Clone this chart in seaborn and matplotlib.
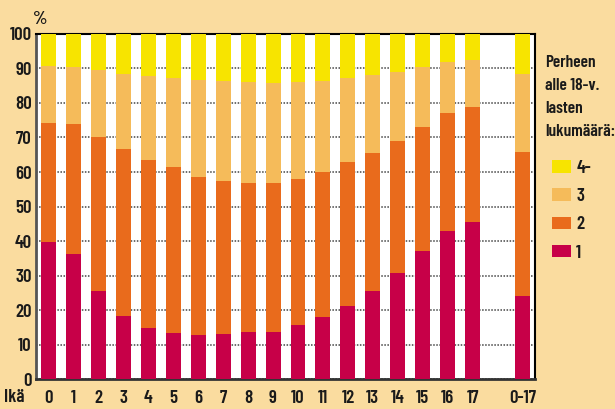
import pandas as pd
import numpy as np
import seaborn as sns
import matplotlib.pyplot as plt

# ages, with an empty slot before the total bar
ages = ['0', '1', '2', '3', '4', '5', '6', '7', '8', '9', '10', '11', '12',
        '13', '14', '15', '16', '17', '0-17']
order = ages[:-1] + [''] + ['0-17']

# share of children (%) by number of under-18 children in family
one = [39.7, 36.2, 25.5, 18.3, 14.8, 13.3, 12.7, 13.0, 13.6, 13.6, 15.6,
       18.0, 21.2, 25.5, 30.7, 37.1, 42.9, 45.5, 24.1]
two = [34.5, 37.7, 44.6, 48.4, 48.7, 48.1, 45.9, 44.4, 43.2, 43.2, 42.4,
       42.0, 41.7, 40.0, 38.3, 35.9, 34.2, 33.3, 41.7]
three = [16.5, 16.5, 19.5, 21.7, 24.3, 25.8, 28.1, 29.0, 29.3, 29.0, 28.1,
         26.4, 24.3, 22.6, 20.0, 17.4, 14.8, 13.7, 22.6]
four = [100 - a - b - c for a, b, c in zip(one, two, three)]

groups = ['4-', '3', '2', '1']
colors = {'4-': '#F7E400', '3': '#F5BB5A', '2': '#E96B1C', '1': '#C70048'}
bg = '#FADC9F'

df = pd.DataFrame({'ika': ages, '1': one, '2': two, '3': three, '4-': four})
df['c1'] = df['1']
df['c2'] = df['c1'] + df['2']
df['c3'] = df['c2'] + df['3']
df['c4'] = df['c3'] + df['4-']

fig = plt.figure(figsize=(6.15, 4.09), dpi=100, facecolor=bg)
ax = fig.add_axes([0.0585, 0.0733, 0.8115, 0.8436])
ax.set_facecolor('white')

# overlapping cumulative bars, tallest first
for col, g in zip(['c4', 'c3', 'c2', 'c1'], groups):
    sns.barplot(data=df, x='ika', y=col, order=order, color=colors[g],
                width=0.6, saturation=1, ax=ax, label=g, zorder=3)
handles, labels = ax.get_legend_handles_labels()
ax.get_legend().remove()

ax.set_ylim(0, 100)
ax.set_xlim(-0.5, 19.5)
ax.set_yticks(range(0, 101, 10))
ax.yaxis.grid(True, linestyle=(0, (1, 1)), color='#444444', linewidth=1.1, zorder=0)
ax.set_axisbelow(True)
ax.tick_params(length=0, pad=3)
ax.tick_params(axis='x', pad=8)
ax.set_xlabel('')
ax.set_ylabel('')

fnt = ['Barlow Condensed', 'DejaVu Sans']
fs = 13.5
tk = dict(fontfamily=fnt, fontweight=600, fontsize=fs, color='#1a1a1a')
for lab in ax.get_xticklabels() + ax.get_yticklabels():
    lab.set(**tk)

ax.spines['left'].set_color('#555555')
ax.spines['left'].set_linewidth(2)
ax.spines['bottom'].set_color('#333333')
ax.spines['bottom'].set_linewidth(2)
ax.spines['top'].set_linewidth(1.5)
ax.spines['right'].set_linewidth(1.5)

fig.text(14 / 615, 1 - 398 / 409, 'Ikä', ha='center', va='center', **tk)
fig.text(40 / 615, 1 - 19 / 409, '%', ha='center', va='center', **tk)

fig.text(545 / 615, 1 - 55 / 409, 'Perheen\nalle 18-v.\nlasten\nlukumäärä:',
         ha='left', va='top', linespacing=1.68, fontfamily=fnt, fontweight=600,
         fontsize=12.5, color='#1a1a1a')

leg = fig.legend(handles, labels, loc='upper left',
                 bbox_to_anchor=(535 / 615, 1 - 143 / 409), frameon=False,
                 handlelength=1.0, handleheight=0.65, handletextpad=0.3,
                 labelspacing=0.6,
                 prop={'family': fnt, 'weight': 600, 'size': fs})
for t in leg.get_texts():
    t.set_color('#1a1a1a')

fig.savefig('out.png', dpi=100, facecolor=bg)
